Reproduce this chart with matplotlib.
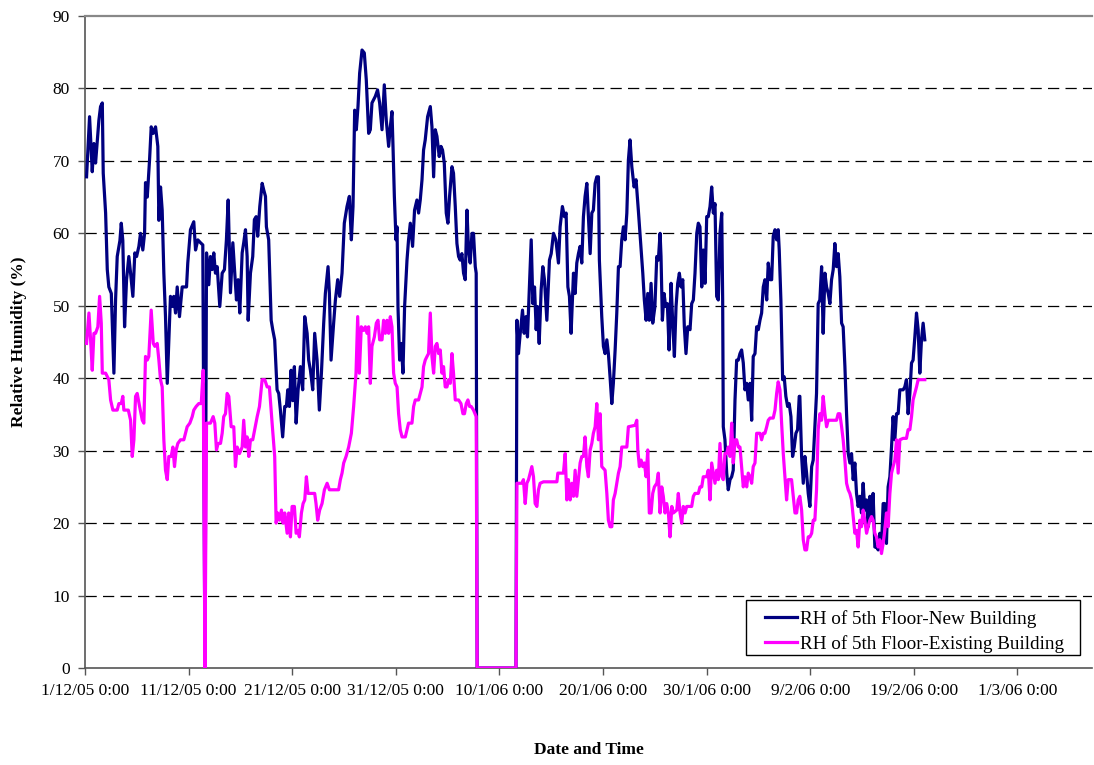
import matplotlib
matplotlib.use("Agg")
import matplotlib.pyplot as plt
from matplotlib.legend_handler import HandlerLine2D
from matplotlib.patches import Rectangle

# ---------------- data (days since 1/12/05 0:00, RH %) ----------------
new_days = [0.15, 0.44, 0.70, 0.86, 1.02, 1.19, 1.34, 1.50, 1.67, 1.76, 1.99, 2.15, 2.30, 2.54, 2.79, 2.95,
            3.11, 3.37, 3.50, 3.65, 3.82, 4.01, 4.23, 4.40, 4.62, 4.81, 4.98, 5.20, 5.36, 5.58, 5.75, 5.84,
            6.01, 6.23, 6.39, 6.59, 6.81, 7.03, 7.13, 7.29, 7.45, 7.61, 7.77, 7.94, 8.09, 8.25, 8.42, 8.57,
            8.74, 8.90, 9.12, 9.38, 9.80, 9.92, 10.18, 10.50, 10.67, 10.89, 11.15, 11.37, 11.58, 11.73,
            11.95, 12.11, 12.28, 12.43, 12.59, 12.76, 13.01, 13.24, 13.46, 13.65, 13.82, 14.04, 14.27,
            14.46, 14.62, 14.78, 14.94, 15.17, 15.32, 15.49, 15.65, 15.75, 15.97, 16.19, 16.35, 16.52,
            16.67, 16.87, 17.10, 17.25, 17.42, 17.51, 17.73, 17.97, 18.12, 18.31, 18.54, 18.70, 18.86,
            19.08, 19.28, 19.44, 19.57, 19.73, 19.89, 20.05, 20.21, 20.38, 20.57, 20.79, 21.01, 21.21,
            21.44, 21.59, 21.76, 21.98, 22.17, 22.40, 22.62, 22.82, 23.04, 23.20, 23.46, 23.59, 23.75,
            24.00, 24.17, 24.39, 24.58, 24.81, 25.03, 25.29, 25.52, 25.71, 25.87, 26.03, 26.19, 26.35,
            26.51, 26.74, 26.96, 27.15, 27.38, 27.54, 27.70, 28.02, 28.24, 28.44, 28.67, 28.89, 29.08,
            29.31, 29.47, 29.63, 29.73, 29.86, 30.02, 30.12, 30.21, 30.37, 30.53, 30.69, 30.85, 31.08,
            31.23, 31.40, 31.62, 31.81, 32.04, 32.20, 32.36, 32.53, 32.68, 32.84, 33.07, 33.33, 33.49,
            33.65, 33.81, 33.97, 34.19, 34.36, 34.51, 34.68, 34.87, 35.03, 35.19, 35.42, 35.57, 35.74,
            35.90, 36.06, 36.22, 36.38, 36.54, 36.70, 36.87, 37.02, 37.18, 37.35, 37.50, 37.67, 37.76,
            37.85, 41.60, 41.69, 41.84, 42.01, 42.23, 42.39, 42.56, 42.71, 42.87, 43.07, 43.23, 43.39,
            43.55, 43.67, 43.84, 44.03, 44.19, 44.35, 44.58, 44.83, 45.00, 45.22, 45.45, 45.70, 45.86,
            46.08, 46.28, 46.44, 46.61, 46.76, 46.92, 47.15, 47.31, 47.47, 47.63, 47.79, 47.95, 48.11,
            48.27, 48.44, 48.59, 48.76, 48.92, 49.07, 49.24, 49.40, 49.56, 49.65, 49.88, 50.04, 50.20,
            50.37, 50.52, 50.68, 50.85, 51.00, 51.17, 51.33, 51.49, 51.65, 51.81, 51.97, 52.13, 52.30,
            52.45, 52.61, 52.78, 53.00, 53.19, 53.41, 53.64, 53.84, 53.99, 54.16, 54.32, 54.47, 54.64,
            54.80, 55.01, 55.19, 55.34, 55.51, 55.60, 55.73, 55.89, 56.05, 56.21, 56.38, 56.57, 56.73,
            56.89, 57.05, 57.21, 57.37, 57.53, 57.70, 57.85, 58.01, 58.18, 58.40, 58.56, 58.72, 58.88,
            59.05, 59.20, 59.36, 59.53, 59.68, 59.85, 60.01, 60.16, 60.33, 60.49, 60.65, 60.81, 60.97,
            61.13, 61.29, 61.46, 61.55, 61.61, 61.77, 61.94, 62.09, 62.26, 62.42, 62.57, 62.74, 62.90,
            63.06, 63.22, 63.38, 63.54, 63.70, 63.87, 64.02, 64.19, 64.35, 64.50, 64.67, 64.83, 64.99,
            65.15, 65.31, 65.47, 65.63, 65.80, 65.95, 66.12, 66.28, 66.43, 66.60, 66.76, 66.91, 67.01,
            67.17, 67.34, 67.49, 67.65, 67.82, 67.97, 68.14, 68.30, 68.46, 68.62, 68.78, 68.94, 69.00,
            69.17, 69.33, 69.49, 69.65, 69.81, 69.97, 70.14, 70.29, 70.45, 70.61, 70.77, 70.93, 71.10,
            71.25, 71.42, 71.58, 71.74, 71.90, 72.06, 72.22, 72.38, 72.54, 72.70, 72.86, 73.03, 73.18,
            73.35, 73.51, 73.67, 73.83, 73.99, 74.15, 74.31, 74.47, 74.63, 74.79, 74.95, 75.11, 75.27,
            75.44, 75.59, 75.76, 75.92, 76.07, 76.24, 76.40, 76.56, 76.72, 76.88, 77.04, 77.20, 77.36,
            77.52, 77.69, 77.85, 78.00, 78.17, 78.33, 78.49, 78.65, 78.81, 78.97, 79.13, 79.29, 79.45,
            79.62, 79.78, 79.93, 80.10, 80.26, 80.42, 80.58, 80.74, 80.90, 81.06]
new_rh = [67.8, 76.1, 68.5, 72.4, 69.7, 72.9, 75.6, 77.5, 78.0, 68.3, 62.8, 55.0, 52.6, 51.7, 40.7, 50.8,
          56.8, 59.0, 61.4, 59.0, 47.1, 53.6, 56.8, 54.5, 51.3, 57.3, 56.8, 58.2, 60.0, 57.7, 60.0, 67.0,
          65.0, 70.1, 74.7, 73.8, 74.7, 72.0, 61.8, 66.4, 63.2, 54.5, 48.5, 39.3, 45.3, 51.3, 49.9, 51.3,
          49.0, 52.6, 48.5, 52.6, 52.6, 55.9, 60.5, 61.6, 57.7, 59.1, 58.7, 58.4, 0.0, 57.3,
          52.9, 56.8, 55.0, 57.3, 54.5, 55.4, 49.9, 54.5, 55.0, 59.1, 64.6, 51.8, 58.7,
          54.5, 50.8, 53.6, 49.0, 57.3, 58.7, 60.5, 56.8, 48.0, 54.5, 56.8, 61.9, 62.3,
          59.6, 63.7, 66.9, 66.0, 65.1, 60.9, 59.1, 48.0, 46.7, 45.3, 38.4, 37.9, 35.6,
          31.9, 36.1, 36.1, 38.4, 36.1, 41.1, 36.9, 41.6, 33.8, 38.4, 41.6, 38.4, 48.5,
          46.2, 42.5, 41.1, 38.4, 46.2, 42.5, 35.6, 40.7, 47.6, 51.7, 55.4, 51.7, 42.5,
          47.6, 50.8, 53.6, 51.3, 54.5, 61.4, 63.7, 65.1, 59.1, 63.7, 77.0, 74.3, 77.5,
          82.1, 85.3, 84.9, 81.2, 73.8, 74.3, 78.0, 78.9, 79.8, 78.0, 74.3, 80.5, 75.6,
          72.0, 74.7, 76.8, 72.0, 65.1, 59.1, 60.9, 49.9, 42.5, 44.8, 40.7, 49.9, 56.3,
          59.1, 61.4, 58.2, 63.2, 64.6, 62.8, 64.6, 67.4, 71.5, 72.9, 76.1, 77.5, 74.7,
          67.8, 74.3, 73.4, 70.6, 72.0, 71.5, 69.7, 62.8, 61.4, 65.1, 69.2, 68.3, 63.7,
          58.6, 56.8, 56.3, 57.2, 54.5, 53.6, 63.2, 57.7, 55.9, 60.0, 60.0, 55.4, 54.5,
          0.0, 0.0, 48.0, 43.4, 46.2, 49.4, 46.2, 48.5, 45.7, 51.7, 59.1, 50.3, 52.6,
          46.7, 49.9, 44.8, 52.2, 55.4, 53.6, 48.0, 56.3, 57.2, 60.0, 59.1, 55.9, 60.9,
          63.7, 62.3, 62.8, 52.6, 51.3, 46.2, 54.5, 51.7, 55.9, 57.2, 58.2, 55.9, 62.3,
          65.1, 66.9, 62.3, 57.2, 62.8, 63.2, 66.9, 67.8, 67.8, 56.3, 48.5, 44.4, 43.4,
          45.3, 43.4, 40.2, 36.5, 39.3, 43.9, 49.0, 55.4, 55.4, 59.1, 60.9, 59.1, 62.8,
          70.1, 72.9, 69.2, 66.4, 67.4, 63.2, 58.6, 54.5, 50.8, 48.0, 51.7, 48.0, 53.1,
          47.6, 49.9, 56.8, 56.3, 60.0, 56.8, 48.0, 51.7, 49.9, 50.3, 43.9, 53.1, 47.6,
          43.0, 49.9, 53.1, 54.5, 52.6, 53.6, 47.1, 43.4, 47.1, 46.7, 50.3, 50.8, 54.5,
          60.0, 61.4, 60.9, 52.6, 57.7, 53.1, 62.3, 62.3, 63.7, 66.4, 62.8, 64.1, 51.3,
          50.8, 60.0, 62.8, 50.8, 33.3, 31.5, 26.9, 24.6, 26.0, 26.4, 27.3, 37.0, 42.5,
          42.5, 43.4, 43.9, 42.1, 38.4, 39.3, 37.0, 39.3, 34.2, 43.0, 43.4, 47.1, 46.7,
          48.0, 49.0, 52.6, 53.6, 50.8, 55.9, 53.6, 53.6, 59.6, 60.5, 59.1, 60.5, 57.7,
          50.8, 39.8, 40.2, 37.5, 36.1, 36.5, 34.7, 29.2, 30.5, 32.4, 32.9, 37.5, 37.5,
          29.2, 25.5, 29.2, 26.9, 24.1, 22.3, 27.8, 28.7, 33.3, 37.9, 50.3, 50.8, 55.4,
          46.2, 54.5, 52.6, 51.7, 50.3, 53.6, 55.0, 58.6, 55.4, 57.2, 54.0, 47.6, 47.1,
          41.6, 35.1, 29.6, 28.3, 29.6, 26.0, 28.3, 24.1, 22.3, 23.7, 21.4, 25.5, 21.8,
          23.2, 19.5, 23.7, 20.4, 24.1, 16.7, 16.7, 16.3, 18.6, 16.7, 22.7, 22.7, 17.2,
          25.0, 26.4, 30.5, 34.7, 31.5, 35.1, 35.1, 38.4, 38.4, 38.4, 38.8, 39.8, 35.1,
          37.9, 42.1, 42.5, 45.7, 49.0, 46.7, 40.7, 45.3, 47.6, 45.3]

old_days = [0.15, 0.38, 0.54, 0.70, 0.86, 1.02, 1.24, 1.41, 1.57, 1.67, 1.99, 2.30, 2.47, 2.69, 3.11, 3.27,
            3.50, 3.65, 3.75, 4.18, 4.40, 4.56, 4.72, 4.88, 5.04, 5.27, 5.53, 5.68, 5.84, 6.01, 6.16, 6.39,
            6.59, 6.74, 6.97, 7.13, 7.29, 7.45, 7.61, 7.77, 7.94, 8.09, 8.32, 8.48, 8.64, 8.80, 8.96, 9.22,
            9.54, 9.70, 9.86, 10.12, 10.35, 10.50, 10.73, 10.98, 11.22, 11.41, 11.58, 11.73, 12.11, 12.37,
            12.53, 12.69, 12.85, 13.08, 13.24, 13.39, 13.56, 13.72, 13.88, 14.11, 14.36, 14.52, 14.69,
            14.91, 15.17, 15.32, 15.49, 15.65, 15.81, 15.97, 16.19, 16.38, 16.62, 16.84, 17.10, 17.35,
            17.58, 17.80, 18.06, 18.31, 18.45, 18.60, 18.77, 18.96, 19.12, 19.28, 19.51, 19.66, 19.83,
            19.99, 20.21, 20.38, 20.57, 20.69, 20.89, 21.05, 21.21, 21.37, 21.53, 21.76, 22.17, 22.30,
            22.46, 22.65, 22.88, 23.11, 23.37, 23.59, 24.48, 24.65, 24.81, 24.97, 25.20, 25.45, 25.71,
            25.93, 26.16, 26.32, 26.48, 26.67, 26.90, 27.06, 27.22, 27.38, 27.54, 27.70, 27.93, 28.12,
            28.28, 28.44, 28.67, 28.82, 28.99, 29.15, 29.31, 29.47, 29.63, 29.79, 29.95, 30.12, 30.27,
            30.43, 30.60, 30.92, 31.08, 31.23, 31.56, 31.72, 31.88, 32.20, 32.36, 32.53, 32.68, 32.84,
            33.01, 33.16, 33.33, 33.49, 33.65, 33.81, 33.97, 34.13, 34.29, 34.45, 34.61, 34.77, 34.94,
            35.09, 35.26, 35.42, 35.57, 35.74, 36.06, 36.29, 36.48, 36.63, 36.80, 36.96, 37.12, 37.28,
            37.50, 37.76, 37.85, 41.60, 41.69, 42.17, 42.32, 42.49, 42.65, 42.81, 42.97, 43.13, 43.29,
            43.45, 43.62, 43.77, 43.93, 44.25, 45.55, 45.64, 46.18, 46.35, 46.51, 46.66, 46.83, 46.99,
            47.15, 47.31, 47.47, 47.63, 47.79, 47.95, 48.11, 48.27, 48.44, 48.59, 48.76, 48.92, 49.07,
            49.24, 49.40, 49.56, 49.72, 49.88, 50.20, 50.37, 50.52, 50.68, 50.85, 51.00, 51.17, 51.33,
            51.49, 51.65, 51.81, 52.30, 52.45, 53.10, 53.26, 53.36, 53.51, 53.68, 53.84, 53.99, 54.16,
            54.32, 54.47, 54.64, 54.80, 54.96, 55.19, 55.34, 55.51, 55.67, 55.82, 55.99, 56.15, 56.31,
            56.47, 56.64, 56.79, 57.12, 57.27, 57.44, 57.60, 57.75, 57.92, 58.08, 58.56, 58.72, 58.88,
            59.20, 59.36, 59.53, 59.68, 60.01, 60.16, 60.33, 60.49, 60.65, 60.81, 60.97, 61.13, 61.29,
            61.46, 61.61, 61.77, 61.94, 62.09, 62.26, 62.42, 62.57, 62.74, 62.90, 63.06, 63.22, 63.38,
            63.54, 63.70, 63.87, 64.02, 64.19, 64.35, 64.50, 64.67, 64.83, 65.15, 65.31, 65.47, 65.63,
            65.80, 65.95, 66.12, 66.43, 66.60, 66.76, 66.91, 67.08, 67.24, 67.40, 67.56, 67.72, 67.88,
            68.20, 68.36, 68.53, 68.69, 68.84, 69.00, 69.17, 69.33, 69.49, 69.65, 69.81, 69.97, 70.14,
            70.29, 70.45, 70.61, 70.77, 70.93, 71.10, 71.25, 71.42, 71.58, 71.74, 72.54, 72.70, 72.86,
            73.03, 73.18, 73.35, 73.51, 73.67, 73.83, 73.99, 74.15, 74.31, 74.47, 74.63, 74.79, 74.95,
            75.11, 75.27, 75.44, 75.59, 75.76, 75.92, 76.07, 76.24, 76.40, 76.56, 76.72, 76.88, 77.04,
            77.20, 77.36, 77.52, 77.69, 77.85, 78.00, 78.17, 78.33, 78.49, 78.65, 78.97, 79.29, 79.45,
            79.62, 79.78, 79.93, 80.10, 80.26, 80.42, 81.06]
old_rh = [44.8, 49.0, 45.3, 41.1, 46.2, 46.2, 47.1, 51.3, 47.6, 40.7, 40.7, 39.8, 37.0, 35.6, 35.6, 36.5,
          36.5, 37.5, 35.6, 35.6, 34.2, 29.2, 31.5, 37.5, 37.9, 36.1, 34.2, 33.8, 43.0, 42.5, 43.0, 49.4,
          44.8, 44.4, 44.8, 42.5, 39.8, 38.8, 31.5, 27.3, 26.0, 29.2, 29.2, 30.5, 27.8, 30.1, 31.0, 31.5,
          31.5, 32.4, 33.3, 33.8, 34.7, 35.6, 36.1, 36.5, 36.5, 41.1, 0.0, 33.8, 33.8, 34.7,
          33.8, 30.1, 31.0, 31.0, 32.4, 34.7, 35.1, 37.9, 37.5, 33.3, 33.3, 27.8, 30.5,
          29.6, 30.5, 34.2, 30.5, 31.9, 29.2, 31.5, 31.5, 32.9, 34.7, 36.1, 39.8, 39.8,
          38.8, 38.8, 33.8, 29.2, 20.0, 21.4, 20.4, 21.8, 20.0, 21.4, 18.6, 21.4, 18.1,
          22.3, 22.3, 18.6, 19.0, 18.1, 21.4, 22.7, 23.2, 26.4, 24.1, 24.1, 24.1, 22.7,
          20.4, 21.8, 22.7, 24.6, 25.5, 24.6, 24.6, 26.0, 26.9, 28.3, 29.2, 30.5, 32.4,
          36.1, 40.7, 48.5, 40.7, 47.1, 46.6, 47.1, 46.2, 47.1, 39.3, 44.4, 45.7, 47.6,
          48.0, 45.3, 45.3, 48.0, 46.2, 48.0, 46.2, 48.5, 47.1, 40.7, 39.3, 38.8, 35.1,
          32.9, 31.9, 31.9, 32.9, 33.8, 33.8, 36.1, 37.0, 37.0, 37.9, 38.8, 41.6, 42.5,
          43.0, 43.4, 49.0, 43.0, 40.7, 44.4, 44.8, 43.4, 43.9, 40.7, 41.6, 38.8, 38.8,
          39.8, 39.3, 43.4, 40.7, 37.0, 37.0, 36.5, 35.1, 35.1, 36.5, 37.0, 36.1, 36.1,
          35.6, 34.7, 0.0, 0.0, 25.5, 25.5, 26.0, 22.7, 25.5, 26.0, 26.9, 27.8, 26.4,
          22.7, 22.3, 24.6, 25.5, 25.7, 25.7, 26.9, 26.9, 29.6, 23.2, 26.0, 23.2, 25.5,
          23.7, 27.3, 23.7, 26.0, 28.3, 29.2, 29.2, 31.9, 27.8, 26.4, 30.1, 31.0, 32.4,
          33.3, 36.5, 31.5, 35.1, 27.8, 27.3, 24.1, 20.4, 19.5, 19.5, 23.2, 24.1, 25.5,
          26.9, 27.8, 30.5, 30.5, 33.3, 33.5, 34.2, 30.1, 27.8, 28.7, 27.8, 28.3, 26.4,
          30.1, 21.4, 21.4, 24.1, 25.0, 25.5, 26.9, 21.4, 25.0, 23.7, 21.4, 22.7, 21.4,
          18.1, 22.3, 21.4, 21.8, 24.1, 21.4, 20.0, 22.3, 21.4, 22.3, 22.3, 23.7, 24.1,
          24.1, 25.0, 25.0, 26.4, 26.4, 27.3, 23.2, 28.3, 26.9, 25.5, 27.3, 26.0, 31.0,
          26.4, 26.0, 29.6, 29.6, 30.5, 29.2, 33.8, 28.3, 31.5, 31.5, 30.5, 30.5, 27.8,
          25.0, 26.4, 25.0, 26.9, 26.4, 25.5, 27.8, 28.3, 32.4, 32.4, 31.5, 32.4, 32.4,
          33.3, 34.2, 34.5, 34.5, 35.6, 37.9, 39.5, 38.4, 33.8, 29.6, 26.4, 23.2, 26.0,
          26.0, 23.7, 21.4, 21.4, 23.2, 23.7, 21.8, 17.7, 16.3, 16.3, 18.1, 18.1, 18.6,
          20.4, 20.4, 24.6, 32.9, 35.1, 34.2, 37.5, 35.1, 33.3, 34.2, 34.2, 35.1, 35.1,
          33.3, 31.5, 28.7, 25.5, 24.6, 24.1, 23.2, 20.9, 18.6, 19.0, 16.7, 20.4, 19.5,
          21.8, 20.4, 18.6, 19.5, 20.4, 20.9, 20.4, 18.6, 18.1, 16.7, 17.7, 15.8, 17.2,
          19.0, 21.4, 19.5, 24.1, 26.9, 27.8, 28.7, 31.5, 26.9, 31.5, 31.7, 31.7, 32.9,
          32.9, 34.7, 37.0, 37.9, 38.8, 39.8, 39.8]

tick_days = [0, 10, 20, 30, 40, 50, 60, 70, 80, 90]
tick_labels = ["1/12/05 0:00", "11/12/05 0:00", "21/12/05 0:00", "31/12/05 0:00", "10/1/06 0:00",
               "20/1/06 0:00", "30/1/06 0:00", "9/2/06 0:00", "19/2/06 0:00", "1/3/06 0:00"]
y_ticks = [0, 10, 20, 30, 40, 50, 60, 70, 80, 90]
series_names = ["RH of 5th Floor-New Building", "RH of 5th Floor-Existing Building"]


class OffsetLineHandler(HandlerLine2D):
    """Legend handle whose line is drawn only in the right part of the handle box."""
    def get_xdata(self, legend, xdescent, ydescent, width, height, fontsize):
        x0 = -xdescent + 0.29 * width
        x1 = -xdescent + width
        return [x0, x1], [x0, x1]


# ---------------- plot ----------------
plt.rcParams['font.family'] = ['Liberation Serif', 'DejaVu Serif']

fig = plt.figure(figsize=(10.94, 7.65), dpi=100)
ax = fig.add_axes([85 / 1094, 1 - 668 / 765, (1092 - 85) / 1094, (668 - 16) / 765])

l1, = ax.plot(new_days, new_rh, color='#000080', lw=2.3, solid_joinstyle='round',
              label=series_names[0], zorder=3)
l2, = ax.plot(old_days, old_rh, color='#FF00FF', lw=2.3, solid_joinstyle='round',
              label=series_names[1], zorder=4)

ax.set_xlim(0, 97.2)
ax.set_ylim(0, 90)
ax.set_xticks(tick_days)
ax.set_xticklabels(tick_labels, fontsize=12.5)
ax.set_yticks(y_ticks)
ax.set_yticklabels([str(v) for v in y_ticks], fontsize=12.5)

for v in y_ticks[1:-1]:
    ax.axhline(v, color='black', lw=0.9, ls=(0, (9, 5)), zorder=1)

ax.spines['right'].set_visible(False)
ax.spines['top'].set_color('#888888')
ax.spines['top'].set_linewidth(1.6)
ax.spines['left'].set_color('#555555')
ax.spines['bottom'].set_color('#555555')
ax.spines['left'].set_linewidth(1.2)
ax.spines['bottom'].set_linewidth(1.2)
ax.tick_params(axis='both', direction='out', length=5, width=1, color='#555555')
ax.tick_params(axis='x', pad=6)
ax.tick_params(axis='y', pad=6)

ax.set_ylabel("Relative Humidity (%)", fontsize=12.5, fontweight='bold', labelpad=18)
ax.set_xlabel("Date and Time", fontsize=12.5, fontweight='bold', labelpad=31)

# legend box (frame drawn separately to get the wide side margins of the original)
box_x0, box_x1 = (746 - 85) / 1007, (1080 - 85) / 1007
box_y0, box_y1 = (668 - 655) / 652, (668 - 600) / 652
ax.add_patch(Rectangle((box_x0, box_y0), box_x1 - box_x0, box_y1 - box_y0, transform=ax.transAxes,
                       facecolor='white', edgecolor='black', lw=1.0, zorder=5))

leg = ax.legend(handles=[l1, l2], loc='center left',
                bbox_to_anchor=(box_x0, (box_y0 + box_y1) / 2 - 4 / 652), fontsize=13.8,
                frameon=False, handlelength=2.35, handletextpad=0.16, borderpad=0.3,
                labelspacing=0.37, borderaxespad=0,
                handler_map={l1: OffsetLineHandler(), l2: OffsetLineHandler()})
leg.set_zorder(6)

fig.savefig("out.png", dpi=100)
